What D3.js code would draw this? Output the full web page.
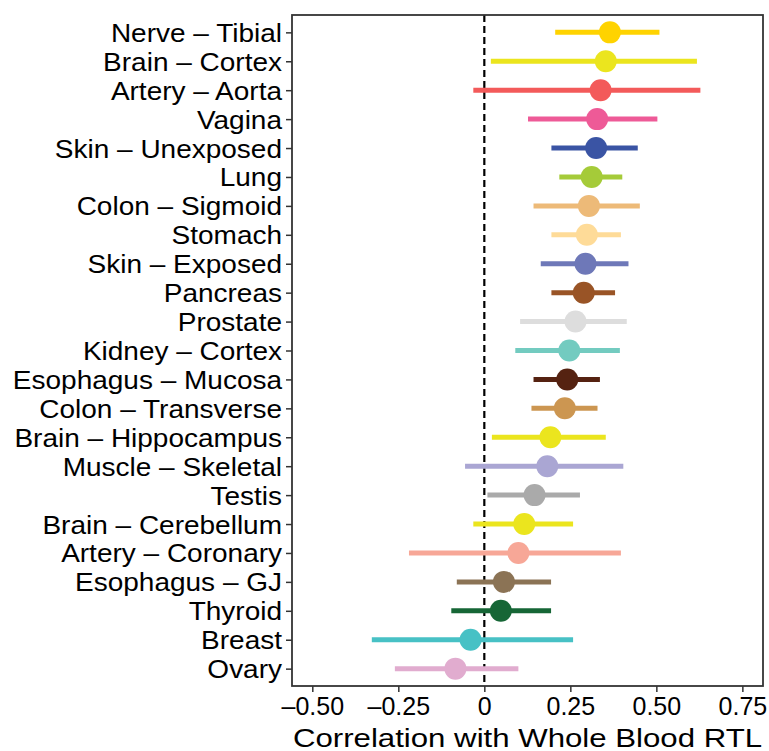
<!DOCTYPE html>
<html>
<head>
<meta charset="utf-8">
<script src="https://cdn.jsdelivr.net/npm/d3@7"></script>
<style>
  body { margin: 0; background: #fff; }
  text { font-family: "Liberation Sans", Arial, Helvetica, sans-serif; }
</style>
</head>
<body>
<svg id="chart" width="769" height="751"></svg>
<script>
// Tissues, top to bottom
const tissues = ["Nerve – Tibial", "Brain – Cortex", "Artery – Aorta", "Vagina", "Skin – Unexposed",
  "Lung", "Colon – Sigmoid", "Stomach", "Skin – Exposed", "Pancreas", "Prostate", "Kidney – Cortex",
  "Esophagus – Mucosa", "Colon – Transverse", "Brain – Hippocampus", "Muscle – Skeletal", "Testis",
  "Brain – Cerebellum", "Artery – Coronary", "Esophagus – GJ", "Thyroid", "Breast", "Ovary"];

const estimates = [0.365, 0.353, 0.338, 0.328, 0.325, 0.312, 0.304, 0.298, 0.294, 0.289, 0.265, 0.247,
  0.241, 0.234, 0.192, 0.183, 0.146, 0.116, 0.099, 0.057, 0.048, -0.040, -0.084];
const lower = [0.206, 0.019, -0.032, 0.127, 0.195, 0.218, 0.143, 0.195, 0.164, 0.195, 0.104, 0.090,
  0.143, 0.137, 0.022, -0.056, 0.009, -0.032, -0.219, -0.080, -0.096, -0.327, -0.260];
const upper = [0.509, 0.618, 0.628, 0.503, 0.446, 0.401, 0.452, 0.397, 0.419, 0.380, 0.414, 0.394,
  0.336, 0.329, 0.353, 0.404, 0.278, 0.258, 0.397, 0.194, 0.194, 0.258, 0.099];

const colors = ["#FFD300", "#EBE51E", "#F35A5A", "#EE5A97", "#3A54A4", "#A5CB39", "#EDBA78", "#FEDB98",
  "#6E78B8", "#995426", "#DDDDDD", "#73CBC0", "#552211", "#CC9651", "#EBE51E", "#AAA6D3", "#AAAAAA",
  "#EBE51E", "#F7A797", "#8B7355", "#166636", "#47C1C5", "#E1ACCF"];

const xTicks = [-0.5, -0.25, 0, 0.25, 0.5, 0.75];
const xTickLabels = ["–0.50", "–0.25", "0", "0.25", "0.50", "0.75"];

const data = tissues.map((t, i) => ({ tissue: t, est: estimates[i], lo: lower[i], hi: upper[i], color: colors[i] }));

const svg = d3.select("#chart");
const margin = { top: 15, right: 6, bottom: 65, left: 292 };
const width = 769, height = 751;
const innerW = width - margin.left - margin.right;
const innerH = height - margin.top - margin.bottom;

const x = d3.scaleLinear().domain([-0.559, 0.810]).range([0, innerW]);
const y = d3.scalePoint().domain(tissues).range([0, innerH]).padding(0.6);

const g = svg.append("g").attr("transform", `translate(${margin.left},${margin.top})`);

// zero line
g.append("line")
  .attr("x1", x(0)).attr("x2", x(0))
  .attr("y1", 0).attr("y2", innerH)
  .attr("stroke", "#000").attr("stroke-width", 2.2)
  .attr("stroke-dasharray", "7,4");

// CI lines
g.selectAll(".ci").data(data).join("line")
  .attr("class", "ci")
  .attr("x1", d => x(d.lo)).attr("x2", d => x(d.hi))
  .attr("y1", d => y(d.tissue)).attr("y2", d => y(d.tissue))
  .attr("stroke", d => d.color).attr("stroke-width", 5);

// points
g.selectAll(".pt").data(data).join("circle")
  .attr("class", "pt")
  .attr("cx", d => x(d.est)).attr("cy", d => y(d.tissue))
  .attr("r", 11)
  .attr("fill", d => d.color);

// axes
const xAxis = g.append("g")
  .attr("transform", `translate(0,${innerH})`)
  .call(d3.axisBottom(x).tickValues(xTicks).tickFormat((d, i) => xTickLabels[i]).tickSize(6).tickPadding(5));
xAxis.select(".domain").remove();
xAxis.selectAll("line").attr("stroke", "#333").attr("stroke-width", 1.5);
xAxis.selectAll("text").attr("fill", "#000").style("font-size", "25px");

const yAxis = g.append("g")
  .call(d3.axisLeft(y).tickSize(6).tickPadding(4));
yAxis.select(".domain").remove();
yAxis.selectAll("line").attr("stroke", "#333").attr("stroke-width", 1.5);
yAxis.selectAll("text").attr("fill", "#000").attr("dy", "0.36em").style("font-size", "25px")
  .attr("transform", "translate(-10,0) scale(1.12,1) translate(10,0)");

// panel border
g.append("rect")
  .attr("width", innerW).attr("height", innerH)
  .attr("fill", "none").attr("stroke", "#333").attr("stroke-width", 1.8);

// x title
svg.append("text")
  .attr("transform", `translate(${margin.left + innerW / 2},${height - 4}) scale(1.2,1)`)
  .attr("text-anchor", "middle")
  .style("font-size", "26px")
  .attr("fill", "#000")
  .text("Correlation with Whole Blood RTL");
</script>
</body>
</html>
